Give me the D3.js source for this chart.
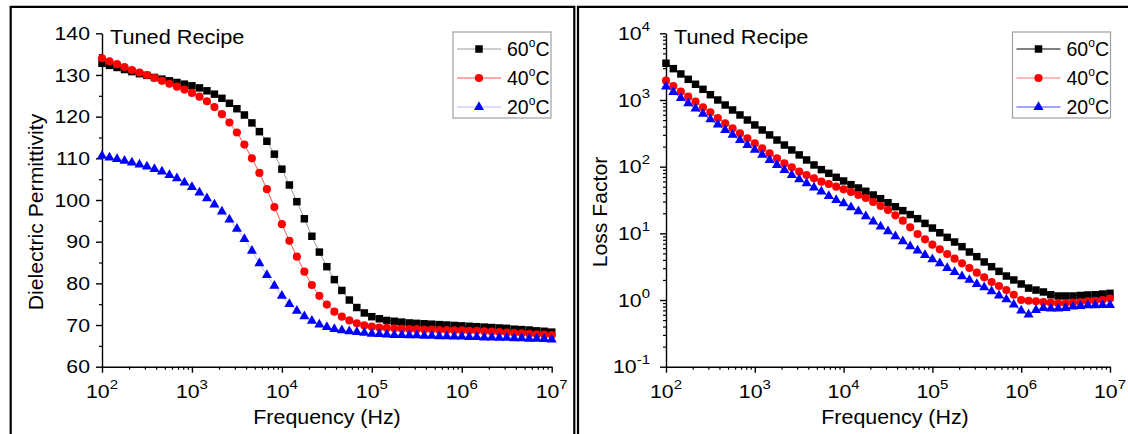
<!DOCTYPE html>
<html>
<head>
<meta charset="utf-8">
<script src="https://cdn.jsdelivr.net/npm/d3@7"></script>
<style>
body { margin: 0; background: #fff; }
text { font-family: "Liberation Sans", Arial, sans-serif; fill: #000; }
</style>
</head>
<body>
<svg id="chart" width="1128" height="434"></svg>
<script>
// frequency grid (Hz), 12 points per decade
const freq = [
    100, 121, 147, 178, 215, 261, 316, 383, 464, 562, 681, 825,
    1000, 1212, 1468, 1778, 2154, 2610, 3162, 3831, 4642, 5623, 6813, 8254,
    10000, 12115, 14678, 17783, 21544, 26102, 31623, 38312, 46416, 56234, 68129, 82540,
    1.0e5, 1.2115e5, 1.4678e5, 1.7783e5, 2.1544e5, 2.6102e5, 3.1623e5, 3.8312e5, 4.6416e5, 5.6234e5, 6.8129e5, 8.254e5,
    1.0e6, 1.2115e6, 1.4678e6, 1.7783e6, 2.1544e6, 2.6102e6, 3.1623e6, 3.8312e6, 4.6416e6, 5.6234e6, 6.8129e6, 8.254e6,
    1.0e7
];

const seriesNames = ['60', '40', '20'];

// dielectric permittivity
const eps60 = [
    132.8, 132.3, 131.8, 131.3, 130.8, 130.3, 129.9, 129.4, 129.0, 128.6, 128.2, 127.8,
    127.4, 126.9, 126.2, 125.4, 124.4, 123.2, 121.9, 120.4, 118.5, 116.4, 114.1, 111.0,
    107.4, 103.6, 99.6, 95.5, 91.3, 87.5, 84.0, 80.9, 78.3, 76.0, 74.2, 72.9,
    72.0, 71.5, 71.1, 70.9, 70.7, 70.5, 70.4, 70.3, 70.2, 70.1, 70.0, 69.9,
    69.8, 69.7, 69.6, 69.5, 69.4, 69.3, 69.2, 69.0, 68.9, 68.8, 68.6, 68.5, 68.3
];
const eps40 = [
    134.0, 133.3, 132.6, 131.9, 131.2, 130.6, 130.0, 129.3, 128.6, 127.9, 127.2, 126.5,
    125.7, 124.8, 123.7, 122.3, 120.6, 118.6, 116.2, 113.3, 110.0, 106.5, 102.6, 98.3,
    94.2, 90.2, 86.4, 82.8, 79.6, 77.0, 74.9, 73.2, 72.0, 71.1, 70.4, 69.9,
    69.6, 69.4, 69.3, 69.2, 69.1, 69.0, 69.0, 68.9, 68.9, 68.8, 68.8, 68.7,
    68.7, 68.6, 68.6, 68.5, 68.4, 68.3, 68.2, 68.1, 68.0, 67.9, 67.8, 67.7, 67.6
];
const eps20 = [
    110.6, 110.2, 109.8, 109.4, 109.0, 108.5, 108.0, 107.4, 106.8, 106.0, 105.2, 104.2,
    103.1, 101.8, 100.4, 98.9, 97.2, 95.3, 93.1, 90.6, 87.8, 84.8, 82.0, 79.4,
    77.0, 75.0, 73.4, 72.1, 71.0, 70.1, 69.5, 69.0, 68.7, 68.5, 68.3, 68.1,
    67.9, 67.8, 67.7, 67.6, 67.6, 67.5, 67.5, 67.4, 67.4, 67.3, 67.3, 67.2,
    67.2, 67.1, 67.1, 67.0, 67.0, 66.9, 66.9, 66.8, 66.8, 66.7, 66.7, 66.6, 66.5
];

// loss factor
const loss60 = [
    3550, 2950, 2455, 2040, 1720, 1445, 1200, 1000, 841, 708, 596, 501,
    422, 355, 299, 251, 211, 178, 150, 126, 106, 90.2, 79.4, 69.2,
    61.0, 53.7, 47.9, 42.7, 37.6, 33.1, 28.8, 25.1, 21.9, 19.1, 16.6, 14.1,
    12.0, 10.2, 8.71, 7.41, 6.31, 5.25, 4.47, 3.72, 3.16, 2.69, 2.29, 2.00,
    1.74, 1.51, 1.41, 1.32, 1.20, 1.15, 1.15, 1.15, 1.17, 1.19, 1.20, 1.23, 1.26
];
const loss40 = [
    1950, 1622, 1334, 1122, 944, 776, 653, 537, 447, 376, 316, 266,
    224, 188, 158, 133, 112, 97.7, 84.1, 75.0, 66.8, 59.6, 55.0, 50.1,
    45.7, 41.7, 37.6, 33.9, 29.5, 25.7, 22.4, 18.6, 15.5, 12.3, 9.77, 8.13,
    6.76, 5.75, 4.90, 4.17, 3.55, 3.02, 2.57, 2.19, 1.86, 1.62, 1.41, 1.20,
    1.00, 0.977, 0.955, 0.933, 0.912, 0.891, 0.891, 0.912, 0.933, 0.955, 0.977, 1.00, 1.05
];
const loss20 = [
    1585, 1318, 1072, 891, 741, 617, 513, 427, 355, 299, 251, 211,
    178, 150, 126, 106, 89.1, 75.0, 64.6, 56.2, 48.4, 42.2, 36.3, 31.6,
    28.2, 24.5, 21.4, 18.0, 15.0, 12.6, 10.7, 9.02, 7.59, 6.38, 5.50, 4.73,
    4.07, 3.55, 3.02, 2.63, 2.26, 2.00, 1.74, 1.55, 1.35, 1.17, 1.02, 0.851,
    0.692, 0.603, 0.708, 0.759, 0.741, 0.741, 0.759, 0.794, 0.813, 0.832, 0.832, 0.841, 0.841
];

const freqTicks = [1e2, 1e3, 1e4, 1e5, 1e6, 1e7];
const epsTicks = [60, 70, 80, 90, 100, 110, 120, 130, 140];
const lossTicks = [1e-1, 1e0, 1e1, 1e2, 1e3, 1e4];

const markerColors = ['#000000', '#ff0000', '#0000ff'];
const markerShapes = [d3.symbolSquare, d3.symbolCircle, d3.symbolTriangle];
const markerSizes = [56, 52, 44];

const svg = d3.select('#chart');

// outer frames of the two figures
svg.append('path').attr('d', 'M10.7,440V6.9H574.3V440')
    .attr('fill', 'none').attr('stroke', '#000').attr('stroke-width', 2.2);
svg.append('path').attr('d', 'M578,440V6.9H1140')
    .attr('fill', 'none').attr('stroke', '#000').attr('stroke-width', 2.2);

function addText(g, x, y, size, sx, anchor, rot) {
    return g.append('text')
        .attr('transform', `translate(${x},${y})` + (rot ? ` rotate(${rot})` : '') + ` scale(${sx},1)`)
        .attr('font-size', size)
        .attr('text-anchor', anchor || 'start');
}

function powText(t, exp) {
    t.append('tspan').text('10');
    t.append('tspan').attr('font-size', 13).attr('dy', -9).text(exp);
}

function drawPanel(cfg) {
    const g = svg.append('g');
    const x = d3.scaleLog().domain([1e2, 1e7]).range([cfg.left, cfg.right]);
    const y = cfg.y;
    const y0 = y.range()[0];

    // x axis
    const minorX = x.ticks().filter(v => !freqTicks.includes(v));
    g.append('g').attr('transform', `translate(0,${y0})`)
        .call(d3.axisBottom(x).tickValues(freqTicks).tickSize(6).tickSizeOuter(0).tickFormat(''))
        .attr('stroke-width', 1.4);
    g.append('g').attr('transform', `translate(0,${y0})`)
        .call(d3.axisBottom(x).tickValues(minorX).tickSize(3).tickSizeOuter(0).tickFormat(''))
        .attr('stroke-width', 1.2)
        .call(a => a.select('.domain').remove());

    // y axis
    g.append('g').attr('transform', `translate(${cfg.left},0)`)
        .call(d3.axisLeft(y).tickValues(cfg.yTicks).tickSize(6).tickSizeOuter(0).tickFormat(''))
        .attr('stroke-width', 1.4);
    g.append('g').attr('transform', `translate(${cfg.left},0)`)
        .call(d3.axisLeft(y).tickValues(cfg.yMinor).tickSize(3).tickSizeOuter(0).tickFormat(''))
        .attr('stroke-width', 1.2)
        .call(a => a.select('.domain').remove());

    // tick labels
    freqTicks.forEach(v => {
        const t = addText(g, x(v), y0 + 31, 18.5, 1.15, 'middle');
        powText(t, Math.round(Math.log10(v)));
    });
    cfg.yTicks.forEach(v => {
        const t = addText(g, cfg.left - cfg.labelGap, y(v) + 6.7, 18.5, 1.15, 'end');
        if (cfg.logY) powText(t, Math.round(Math.log10(v)));
        else t.text(v);
    });

    // axis titles
    addText(g, cfg.xTitleX, 424, 20, 1.07, 'middle').text('Frequency (Hz)');
    addText(g, cfg.yTitleX, 212, 20, 1.06, 'middle', -90).text(cfg.yTitle);
    addText(g, cfg.left + 8, 44, 20.5, 1.06, 'start').text('Tuned Recipe');

    // series
    cfg.data.forEach((vals, i) => {
        const pts = freq.map((f, j) => [f, vals[j]]);
        g.append('path')
            .attr('d', d3.line().x(d => x(d[0])).y(d => y(d[1]))(pts))
            .attr('fill', 'none')
            .attr('stroke', cfg.lineColors[i])
            .attr('stroke-width', 1);
        g.append('g').selectAll('path')
            .data(pts)
            .enter()
            .append('path')
            .attr('transform', d => `translate(${x(d[0])},${y(d[1])})`)
            .attr('d', d3.symbol().type(markerShapes[i]).size(markerSizes[i]))
            .attr('fill', markerColors[i]);
    });

    // legend
    const lg = g.append('g');
    lg.append('rect')
        .attr('x', cfg.legendX).attr('y', 32)
        .attr('width', 98).attr('height', 86)
        .attr('fill', '#fff').attr('stroke', '#a0a0a0').attr('stroke-width', 1.2);
    seriesNames.forEach((name, i) => {
        const ry = 49 + i * 29;
        lg.append('line')
            .attr('x1', cfg.legendX + 4).attr('x2', cfg.legendX + 48)
            .attr('y1', ry).attr('y2', ry)
            .attr('stroke', cfg.lineColors[i]).attr('stroke-width', 1);
        lg.append('path')
            .attr('transform', `translate(${cfg.legendX + 26},${ry})`)
            .attr('d', d3.symbol().type(markerShapes[i]).size(markerSizes[i]))
            .attr('fill', markerColors[i]);
        const t = addText(lg, cfg.legendX + 54, ry + 7, 19.5, 1.0, 'start');
        t.append('tspan').text(name);
        t.append('tspan').attr('font-size', 12).attr('dy', -9).text('o');
        t.append('tspan').attr('dy', 9).text('C');
    });
}

drawPanel({
    left: 102, right: 551.7,
    y: d3.scaleLinear().domain([60, 140]).range([366.7, 33.3]),
    yTicks: epsTicks,
    yMinor: [65, 75, 85, 95, 105, 115, 125, 135],
    logY: false,
    labelGap: 12,
    yTitle: 'Dielectric Permittivity',
    yTitleX: 42.5,
    xTitleX: 327,
    legendX: 453,
    lineColors: ['#9a9a9a', '#ff5050', '#b8b8ff'],
    data: [eps60, eps40, eps20]
});

const lossY = d3.scaleLog().domain([1e-1, 1e4]).range([366.7, 33.3]);
drawPanel({
    left: 666, right: 1110,
    y: lossY,
    yTicks: lossTicks,
    yMinor: lossY.ticks().filter(v => !lossTicks.some(t => Math.abs(t - v) < 1e-9)),
    logY: true,
    labelGap: 16,
    yTitle: 'Loss Factor',
    yTitleX: 607,
    xTitleX: 895,
    legendX: 1012.5,
    lineColors: ['#000000', '#ff7070', '#4848ff'],
    data: [loss60, loss40, loss20]
});
</script>
</body>
</html>
